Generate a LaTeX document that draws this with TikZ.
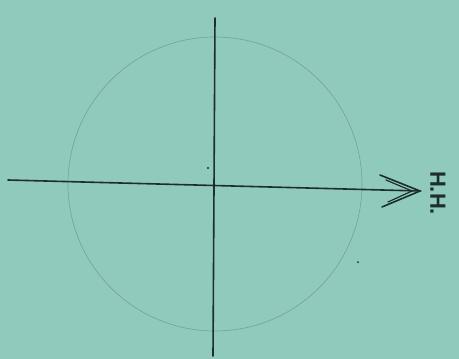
\documentclass[tikz,border=0pt]{standalone}
\usepackage{fontspec}
\setmainfont{Liberation Sans}
\definecolor{paper}{RGB}{144,202,188}
\definecolor{pencil}{RGB}{30,45,50}
\definecolor{faint}{RGB}{120,160,150}
\begin{document}
\begin{tikzpicture}[x=1pt,y=-1pt,
  pen/.style={draw=pencil,line width=1.6pt,line cap=round},
  thin/.style={draw=faint,line width=0.6pt}]
\fill[paper] (0,0) rectangle (459,359);
\useasboundingbox (0,0) rectangle (459,359);
\coordinate (c) at (215,184);
\draw[thin] (c) circle[radius=147];
\coordinate (vt) at (215,18);
\coordinate (vb) at (213,356);
\draw[pen] (vt) -- (vb);
\coordinate (hl) at (8,180);
\coordinate (tip) at (420,191);
\coordinate (b1) at (380,175);
\coordinate (b2) at (382,207);
\draw[pen] (hl) -- (tip);
\draw[pen] (b1) -- (tip) -- (b2);
\draw[pen,line width=1.2pt] (386,180) -- (412,191) -- (388,202);
\fill[pencil] (208,168) circle[radius=1.2];
\fill[pencil] (358,262) circle[radius=1];
\node[text=pencil,rotate=-90,font=\bfseries\fontsize{22}{22}\selectfont] (lbl) at (438,193) {Н.Н.};
\end{tikzpicture}
\end{document}
